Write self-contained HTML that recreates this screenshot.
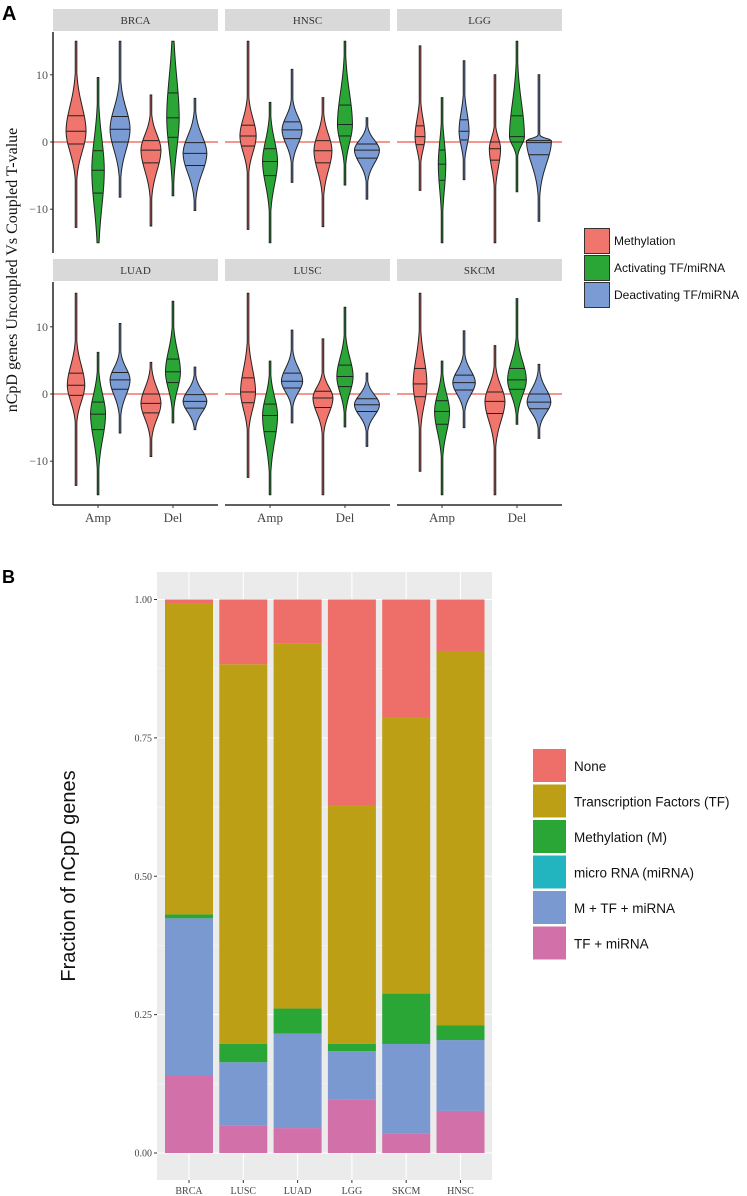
<!DOCTYPE html>
<html><head><meta charset="utf-8">
<style>
html,body{margin:0;padding:0;background:#fff;}
svg{display:block;}
</style></head>
<body>
<svg id="fig" width="747" height="1196" viewBox="0 0 747 1196" xmlns="http://www.w3.org/2000/svg">
<text x="2" y="20" font-family="Liberation Sans, sans-serif" font-weight="bold" font-size="20">A</text>
<text x="2" y="583" font-family="Liberation Sans, sans-serif" font-weight="bold" font-size="18">B</text>
<g id="violins"></g>
<g id="bars"></g>
</svg>
<script>
// ===== Panel A data =====
const cancers = ["BRCA","HNSC","LGG","LUAD","LUSC","SKCM"];
const groups = ["Amp","Del"];
const seriesNames = ["Methylation","Activating TF/miRNA","Deactivating TF/miRNA"];
// order per cancer: AmpMeth, AmpAct, AmpDeact, DelMeth, DelAct, DelDeact
const vMin = [
 [-12.7,-15,-8.2,-12.5,-8,-10.2],
 [-13,-15,-6,-12.6,-6.4,-8.5],
 [-7.2,-15,-5.6,-15,-7.4,-11.8],
 [-13.6,-15,-5.8,-9.3,-4.3,-5.3],
 [-12.4,-15,-4.3,-15,-4.9,-7.8],
 [-11.5,-15,-5,-15,-4.5,-6.6]];
const vMax = [
 [15,9.6,15,7,15,6.5],
 [15,5.9,10.8,6.6,15,3.6],
 [14.3,6.6,12.1,10,15,10],
 [15,6.2,10.5,4.7,13.8,4],
 [15,4.9,9.5,8.2,12.9,3.1],
 [15,4.9,9.4,7.2,14.2,4.4]];
const vQ1 = [
 [-0.3,-7.6,0,-3.1,0.7,-3.5],
 [-0.6,-5,0.5,-3.1,0.9,-2.4],
 [-0.4,-5.7,0.3,-2.7,0,-1.9],
 [-0.2,-5.3,0.7,-2.8,1.7,-2.1],
 [-1.3,-5.6,0.9,-2,1.1,-2.6],
 [-0.4,-4.5,0.6,-2.9,0.7,-2.2]];
const vMed = [
 [1.6,-4.2,1.9,-1.2,3.6,-1.7],
 [0.9,-2.9,1.8,-1.3,2.6,-1.2],
 [0.8,-3.3,1.6,-1,0.8,0.2],
 [1.3,-3,2.1,-1.4,3.3,-1.1],
 [0.3,-3.2,1.9,-0.6,2.6,-1.6],
 [1.5,-2.6,1.7,-1.1,2.1,-1.2]];
const vQ3 = [
 [3.9,-1.3,3.8,0.2,7.3,-0.1],
 [2.5,-1,3,0.2,5.5,-0.3],
 [2.4,-1.2,3.3,0,3.9,-0.1],
 [3.1,-1.2,3.2,0,5.2,-0.1],
 [2.4,-1.5,3.1,0.4,4.3,-0.7],
 [3.8,-1,2.8,0.3,3.8,0]];
const vPeak = [
 [0.8,0.5,0.8,0.8,0.5,0.95],
 [0.65,0.6,0.8,0.72,0.6,1.0],
 [0.4,0.3,0.4,0.45,0.6,1.0],
 [0.7,0.6,0.8,0.8,0.6,0.95],
 [0.6,0.6,0.85,0.8,0.65,1.0],
 [0.55,0.6,0.9,0.8,0.75,0.95]];
const yTicksA = [-10,0,10];

// ===== Panel B data =====
const barCats = ["BRCA","LUSC","LUAD","LGG","SKCM","HNSC"];
const stackNames = ["TF + miRNA","M + TF + miRNA","micro RNA (miRNA)","Methylation (M)","Transcription Factors (TF)","None"];
const sTFmiRNA = [0.14,0.049,0.045,0.097,0.035,0.076];
const sMTFmiRNA = [0.284,0.115,0.171,0.087,0.162,0.128];
const sMiRNA = [0,0,0,0,0,0];
const sMeth = [0.007,0.033,0.045,0.013,0.091,0.027];
const sTF = [0.561,0.686,0.659,0.43,0.498,0.676];
const sNone = [0.008,0.117,0.08,0.373,0.214,0.093];
const yTicksB = [0,0.25,0.5,0.75,1];
const yTickLabelsB = ["0.00","0.25","0.50","0.75","1.00"];
const legendBOrder = ["None","Transcription Factors (TF)","Methylation (M)","micro RNA (miRNA)","M + TF + miRNA","TF + miRNA"];

const NS="http://www.w3.org/2000/svg";
function mk(tag, attrs, parent){const e=document.createElementNS(NS,tag);for(const k in attrs)e.setAttribute(k,attrs[k]);parent.appendChild(e);return e;}
const serif="Liberation Serif, serif", sans="Liberation Sans, sans-serif";

// ----- Panel A -----
const gA=document.getElementById('violins');
const colA=["#F0756D","#2AA637","#7B9BD4"];
const panelX0=[53,225,397], panelW=165;
const rowTop=[32,282], rowZero=[142,394], pxPerUnit=6.72, panelBottom=[253,505];
function yA(r,v){return rowZero[r]-v*pxPerUnit;}
function xGroup(c,gi){return panelX0[c]+panelW*(gi===0?0.273:0.727);}
const dodge=22, maxHalf=12.5;
function widthAt(v,md,sLo,sHi,pk){
  const z=(v-md)/(v<md?sLo:sHi);
  return pk*(0.94*Math.exp(-0.5*z*z/1.2)+0.06*Math.exp(-Math.abs(z)/2));
}
cancers.forEach((name,i)=>{
  const r=Math.floor(i/3), c=i%3, x0=panelX0[c];
  const strip=mk('rect',{x:x0,y:rowTop[r]-23,width:panelW,height:22,fill:"#D9D9D9"},gA);
  
  
  const st=mk('text',{x:x0+panelW/2,y:rowTop[r]-8,"text-anchor":"middle","font-family":serif,"font-size":11,fill:"#333"},gA);
  st.textContent=name;
  
  
  const ref=mk('line',{x1:x0,x2:x0+panelW,y1:yA(r,0),y2:yA(r,0),stroke:"#F0756D","stroke-width":1.4},gA);
  
  
  for(let k=0;k<6;k++){
    const gi=Math.floor(k/3), si=k%3;
    const cx=xGroup(c,gi)+(si-1)*dodge;
    const mn=vMin[i][k], mx=vMax[i][k], q1=vQ1[i][k], md=vMed[i][k], q3=vQ3[i][k];
    const sLo=Math.max((md-q1)/0.674,0.3), sHi=Math.max((q3-md)/0.674,0.3);
    const pk=vPeak[i][k]*maxHalf;
    const N=100, pts=[];
    for(let j=0;j<=N;j++){
      const v=mn+(mx-mn)*j/N;
      pts.push([v,Math.max(widthAt(v,md,sLo,sHi,pk),0.8)]);
    }
    let d="";
    pts.forEach((p,j)=>{d+=(j?"L":"M")+(cx+p[1]).toFixed(2)+","+yA(r,p[0]).toFixed(2);});
    for(let j=pts.length-1;j>=0;j--){d+="L"+(cx-pts[j][1]).toFixed(2)+","+yA(r,pts[j][0]).toFixed(2);}
    d+="Z";
    const vp=mk('path',{d:d,fill:colA[si],stroke:"#222","stroke-width":1},gA);
    
    
    [q1,md,q3].forEach(q=>{
      const w=widthAt(q,md,sLo,sHi,pk);
      const ql=mk('line',{x1:cx-w,x2:cx+w,y1:yA(r,q),y2:yA(r,q),stroke:"#222","stroke-width":1},gA);
      
      
    });
  }
  if(r===1){
    const ax=mk('line',{x1:x0,x2:x0+panelW,y1:panelBottom[r],y2:panelBottom[r],stroke:"#000","stroke-width":1.3},gA);
    
    
    groups.forEach((g,gi)=>{
      const gx=xGroup(c,gi);
      mk('line',{x1:gx,x2:gx,y1:panelBottom[r],y2:panelBottom[r]+3,stroke:"#333"},gA);
      const t=mk('text',{x:gx,y:panelBottom[r]+17,"text-anchor":"middle","font-family":serif,"font-size":13,fill:"#444"},gA);
      t.textContent=g;
      
      
    });
  }
  if(c===0){
    const ay=mk('line',{x1:x0,x2:x0,y1:rowTop[r],y2:panelBottom[r],stroke:"#000","stroke-width":1.3},gA);
    
    
    yTicksA.forEach(tv=>{
      mk('line',{x1:x0-3,x2:x0,y1:yA(r,tv),y2:yA(r,tv),stroke:"#333"},gA);
      const t=mk('text',{x:x0-5,y:yA(r,tv)+4,"text-anchor":"end","font-family":serif,"font-size":12,fill:"#555"},gA);
      t.textContent=(tv<0?"\u2212":"")+Math.abs(tv);
      
      
    });
  }
});
const yta=mk('text',{x:0,y:0,transform:"translate(17,270) rotate(-90)","text-anchor":"middle","font-family":serif,"font-size":16,fill:"#111"},gA);
yta.textContent="nCpD genes Uncoupled Vs Coupled T-value";


seriesNames.forEach((s,si)=>{
  const ky=228+si*27;
  const k=mk('rect',{x:584.5,y:ky+0.5,width:25,height:25,fill:colA[si],stroke:"#333","stroke-width":1},gA);
  
  
  const t=mk('text',{x:614,y:ky+17,"font-family":sans,"font-size":12,fill:"#111"},gA);
  t.textContent=s;
  
  
});

// ----- Panel B -----
const gB=document.getElementById('bars');
const pL=157,pR=492,pT=572,pB=1180,y0B=1153,scaleB=553.5;
function yB(v){return y0B-v*scaleB;}
function xB(i){return 189+i*54.3;}
const bg=mk('rect',{x:pL,y:pT,width:pR-pL,height:pB-pT,fill:"#EBEBEB"},gB);


for(let v=0.125;v<1.05;v+=0.25){mk('line',{x1:pL,x2:pR,y1:yB(v),y2:yB(v),stroke:"#F7F7F7","stroke-width":0.6},gB);}
yTicksB.forEach((v,i)=>{
  mk('line',{x1:pL,x2:pR,y1:yB(v),y2:yB(v),stroke:"#fff","stroke-width":1.1},gB);
  mk('line',{x1:pL-3,x2:pL,y1:yB(v),y2:yB(v),stroke:"#333","stroke-width":1},gB);
  const t=mk('text',{x:pL-5,y:yB(v)+3.5,"text-anchor":"end","font-family":serif,"font-size":10,fill:"#444"},gB);
  t.textContent=yTickLabelsB[i];
  
  
});
barCats.forEach((c,i)=>{mk('line',{x1:xB(i),x2:xB(i),y1:pT,y2:pB,stroke:"#fff","stroke-width":1.1},gB);});
const stacks=[sTFmiRNA,sMTFmiRNA,sMiRNA,sMeth,sTF,sNone];
const colB=["#D270A9","#7B99D1","#22B5C0","#2AA637","#BC9F14","#EE6F69"];
const barW=48;
barCats.forEach((c,i)=>{
  let cum=0;
  stacks.forEach((arr,s)=>{
    const v=arr[i];
    if(v>0){
      const r=mk('rect',{x:xB(i)-barW/2,y:yB(cum+v),width:barW,height:v*scaleB,fill:colB[s]},gB);
      
      
    }
    cum+=v;
  });
  mk('line',{x1:xB(i),x2:xB(i),y1:pB,y2:pB+3,stroke:"#333"},gB);
  const t=mk('text',{x:xB(i),y:pB+14,"text-anchor":"middle","font-family":serif,"font-size":10,fill:"#444"},gB);
  t.textContent=c;
  
  
});
const ytb=mk('text',{x:0,y:0,transform:"translate(75,876) rotate(-90)","text-anchor":"middle","font-family":sans,"font-size":20,fill:"#111"},gB);
ytb.textContent="Fraction of nCpD genes";


legendBOrder.forEach((s,j)=>{
  const ky=749+j*35.5;
  const si=stackNames.indexOf(s);
  const k=mk('rect',{x:533,y:ky,width:33,height:33,fill:colB[si]},gB);
  
  
  const t=mk('text',{x:574,y:ky+22,"font-family":sans,"font-size":13.5,fill:"#111"},gB);
  t.textContent=s;
  
  
});
</script>
</body></html>
